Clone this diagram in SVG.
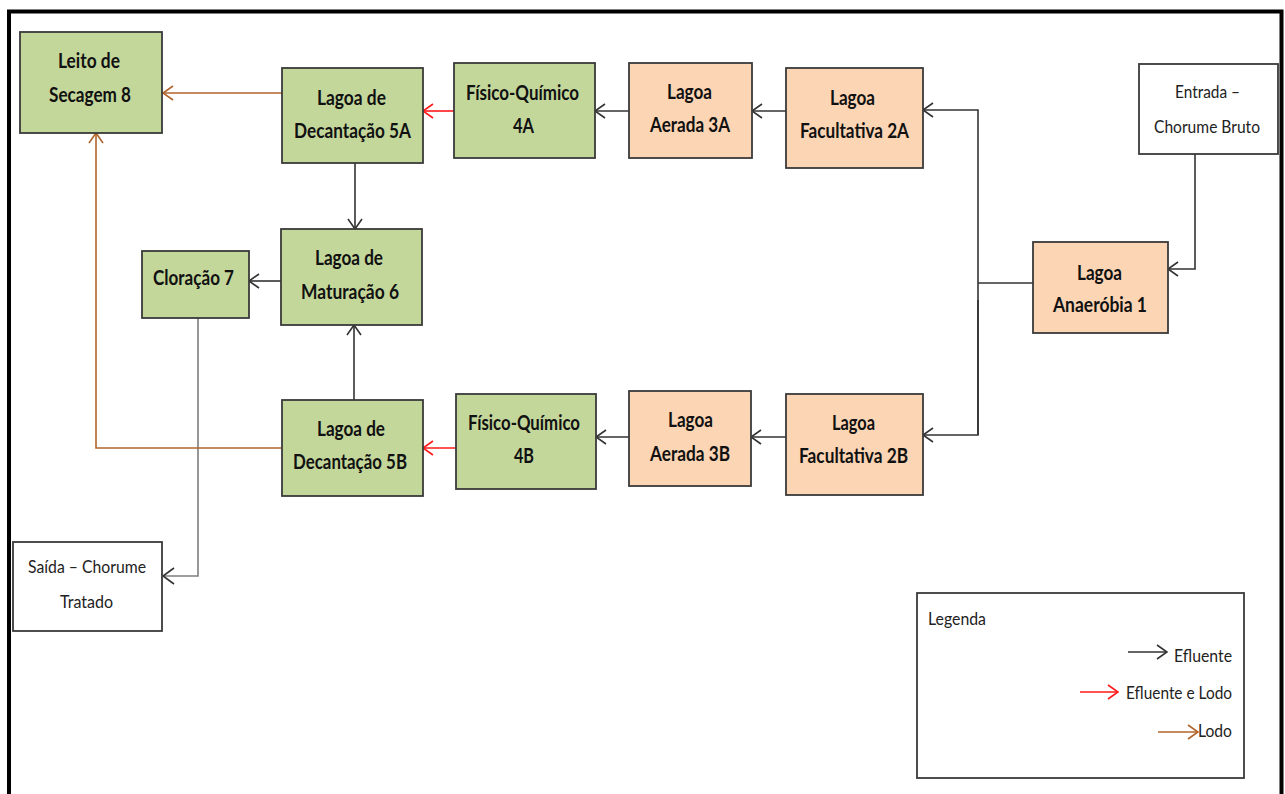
<svg xmlns="http://www.w3.org/2000/svg" width="1285" height="794" viewBox="0 0 1285 794">
<style>
.box{stroke:#3a3a3a;stroke-width:1.8}
.g{fill:#c4d79b}
.o{fill:#fcd5b4}
.w{fill:#ffffff}
.t{font-family:Lato,"Liberation Sans",sans-serif;font-weight:bold;font-size:21px;fill:#111}
.r{font-family:Lato,"Liberation Sans",sans-serif;font-size:18px;fill:#222}
.c{fill:none;stroke-width:1.6}
.k{stroke:#333}
.red{stroke:#ff1a1a}
.br{stroke:#b0652c}
.gr{stroke:#7f7f7f}
</style>
<defs>
<marker id="ak" markerUnits="userSpaceOnUse" markerWidth="12" markerHeight="16" viewBox="0 0 12 16" refX="11" refY="8" orient="auto"><path d="M1,1 L11,8 L1,15" fill="none" stroke="#333" stroke-width="1.6"/></marker>
<marker id="ar" markerUnits="userSpaceOnUse" markerWidth="12" markerHeight="16" viewBox="0 0 12 16" refX="11" refY="8" orient="auto"><path d="M1,1 L11,8 L1,15" fill="none" stroke="#ff1a1a" stroke-width="1.6"/></marker>
<marker id="ab" markerUnits="userSpaceOnUse" markerWidth="12" markerHeight="16" viewBox="0 0 12 16" refX="11" refY="8" orient="auto"><path d="M1,1 L11,8 L1,15" fill="none" stroke="#b0652c" stroke-width="1.6"/></marker>
</defs>
<rect width="1285" height="794" fill="#fff"/>
<path d="M9,794 V11.5 H1281.5 V794" fill="none" stroke="#000" stroke-width="4"/>

<g id="connectors">
<path class="c br" d="M282,93 H163" marker-end="url(#ab)"/>
<path class="c red" d="M454,111 H423" marker-end="url(#ar)"/>
<path class="c k" d="M629,111 H595" marker-end="url(#ak)"/>
<path class="c k" d="M786,111 H752" marker-end="url(#ak)"/>
<path class="c k" d="M1033,283 H978"/>
<path class="c k" d="M978,435 V110 H923" marker-end="url(#ak)"/>
<path class="c k" d="M978,300 V435 H923" marker-end="url(#ak)"/>
<path class="c k" d="M1195,154 V269 H1168" marker-end="url(#ak)"/>
<path class="c k" d="M355,163 V229" marker-end="url(#ak)"/>
<path class="c k" d="M354,400 V325" marker-end="url(#ak)"/>
<path class="c k" d="M281,281 H249" marker-end="url(#ak)"/>
<path class="c gr" d="M198,318 V576 H162"/>
<path d="M174,568 L163,576 L174,584" fill="none" stroke="#333" stroke-width="1.6"/>
<path class="c br" d="M282,448 H96 V133" marker-end="url(#ab)"/>
<path class="c red" d="M456,448 H423" marker-end="url(#ar)"/>
<path class="c k" d="M629,437 H596" marker-end="url(#ak)"/>
<path class="c k" d="M786,437 H751" marker-end="url(#ak)"/>
</g>

<g id="n8"><rect class="box g" x="20" y="32" width="142" height="101"/><text class="t" x="58" y="68" textLength="62" lengthAdjust="spacingAndGlyphs">Leito de</text><text class="t" x="49" y="102" textLength="82" lengthAdjust="spacingAndGlyphs">Secagem 8</text></g>
<g id="n5a"><rect class="box g" x="282" y="68" width="141" height="95"/><text class="t" x="317" y="105" textLength="69" lengthAdjust="spacingAndGlyphs">Lagoa de</text><text class="t" x="294" y="138" textLength="117" lengthAdjust="spacingAndGlyphs">Decantação 5A</text></g>
<g id="n4a"><rect class="box g" x="454" y="63" width="141" height="95"/><text class="t" x="466" y="100" textLength="113" lengthAdjust="spacingAndGlyphs">Físico-Químico</text><text class="t" x="513" y="133" textLength="21" lengthAdjust="spacingAndGlyphs">4A</text></g>
<g id="n3a"><rect class="box o" x="629" y="63" width="123" height="95"/><text class="t" x="667" y="99" textLength="45" lengthAdjust="spacingAndGlyphs">Lagoa</text><text class="t" x="650" y="132" textLength="80" lengthAdjust="spacingAndGlyphs">Aerada 3A</text></g>
<g id="n2a"><rect class="box o" x="786" y="68" width="137" height="100"/><text class="t" x="830" y="105" textLength="45" lengthAdjust="spacingAndGlyphs">Lagoa</text><text class="t" x="800" y="138" textLength="109" lengthAdjust="spacingAndGlyphs">Facultativa 2A</text></g>
<g id="nin"><rect class="box w" x="1139" y="64" width="139" height="90"/><text class="r" x="1175" y="98" textLength="65" lengthAdjust="spacingAndGlyphs">Entrada –</text><text class="r" x="1154" y="133" textLength="106" lengthAdjust="spacingAndGlyphs">Chorume Bruto</text></g>
<g id="n1"><rect class="box o" x="1033" y="242" width="135" height="91"/><text class="t" x="1077" y="280" textLength="45" lengthAdjust="spacingAndGlyphs">Lagoa</text><text class="t" x="1053" y="312" textLength="94" lengthAdjust="spacingAndGlyphs">Anaeróbia 1</text></g>
<g id="n7"><rect class="box g" x="142" y="251" width="107" height="67"/><text class="t" x="153" y="285" textLength="81" lengthAdjust="spacingAndGlyphs">Cloração 7</text></g>
<g id="n6"><rect class="box g" x="281" y="229" width="141" height="96"/><text class="t" x="315" y="265" textLength="68" lengthAdjust="spacingAndGlyphs">Lagoa de</text><text class="t" x="301" y="299" textLength="98" lengthAdjust="spacingAndGlyphs">Maturação 6</text></g>
<g id="n5b"><rect class="box g" x="282" y="400" width="141" height="96"/><text class="t" x="317" y="436" textLength="68" lengthAdjust="spacingAndGlyphs">Lagoa de</text><text class="t" x="293" y="469" textLength="114" lengthAdjust="spacingAndGlyphs">Decantação 5B</text></g>
<g id="n4b"><rect class="box g" x="456" y="394" width="140" height="95"/><text class="t" x="468" y="430" textLength="112" lengthAdjust="spacingAndGlyphs">Físico-Químico</text><text class="t" x="514" y="463" textLength="20" lengthAdjust="spacingAndGlyphs">4B</text></g>
<g id="n3b"><rect class="box o" x="629" y="391" width="122" height="95"/><text class="t" x="668" y="427" textLength="45" lengthAdjust="spacingAndGlyphs">Lagoa</text><text class="t" x="650" y="461" textLength="80" lengthAdjust="spacingAndGlyphs">Aerada 3B</text></g>
<g id="n2b"><rect class="box o" x="786" y="394" width="137" height="101"/><text class="t" x="832" y="430" textLength="43" lengthAdjust="spacingAndGlyphs">Lagoa</text><text class="t" x="799" y="463" textLength="109" lengthAdjust="spacingAndGlyphs">Facultativa 2B</text></g>
<g id="nout"><rect class="box w" x="13" y="542" width="149" height="89"/><text class="r" x="28" y="573" textLength="118" lengthAdjust="spacingAndGlyphs">Saída – Chorume</text><text class="r" x="60" y="608" textLength="53" lengthAdjust="spacingAndGlyphs">Tratado</text></g>

<g id="legend">
<rect x="917" y="593" width="327" height="185" fill="#fff" stroke="#3a3a3a" stroke-width="1.8"/>
<text class="r" x="928" y="625" textLength="58" lengthAdjust="spacingAndGlyphs">Legenda</text>
<path class="c k" d="M1128,652 H1167" marker-end="url(#ak)"/>
<text class="r" x="1174" y="662" textLength="58" lengthAdjust="spacingAndGlyphs">Efluente</text>
<path class="c red" d="M1080,692 H1118" marker-end="url(#ar)"/>
<text class="r" x="1126" y="699" textLength="106" lengthAdjust="spacingAndGlyphs">Efluente e Lodo</text>
<path class="c br" d="M1158,732 H1198" marker-end="url(#ab)"/>
<text class="r" x="1198" y="737" textLength="34" lengthAdjust="spacingAndGlyphs">Lodo</text>
</g>
</svg>
